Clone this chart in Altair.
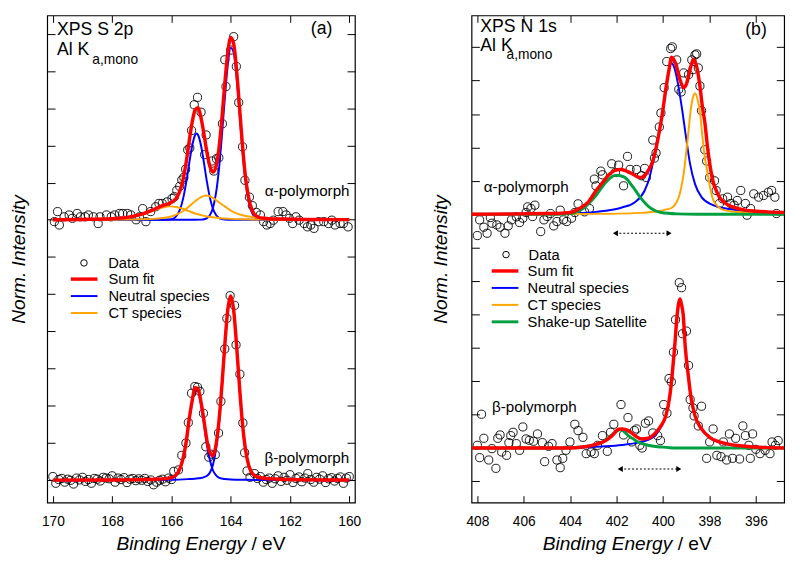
import altair as alt
import pandas as pd

FONT = "Liberation Sans"
RED, BLUE, ORANGE, GREEN = "#ff0000", "#0000ff", "#ffa500", "#00a040"

A_SERIES = ["Sum fit", "Neutral species", "CT species"]
A_COLORS = [RED, BLUE, ORANGE]
B_SERIES = ["Sum fit", "Neutral species", "CT species", "Shake-up Satellite"]
B_COLORS = [RED, BLUE, ORANGE, GREEN]

A_X_DOMAIN = [159.81, 170.19]
A_Y_DOMAIN = [-0.598, 12.49]
B_X_DOMAIN = [394.78, 408.25]
B_Y_DOMAIN = [-1.634, 12.95]
A_X_TICKS = [160, 162, 164, 166, 168, 170]
B_X_TICKS = [396, 398, 400, 402, 404, 406, 408]
A_Y_TICKS = [0, 1, 2, 3, 4, 5, 6, 7, 8, 9, 10, 11, 12]
B_Y_TICKS = [-1, 0, 1, 2, 3, 4, 5, 6, 7, 8, 9, 10, 11, 12, 13]

# ---------------- panel (a): S 2p ----------------
A_ALPHA_PTS = [
    (169.95, 6.95), (169.84, 7.22), (169.78, 6.86), (169.62, 7.08), (169.45, 7.13), (169.34, 7.04),
    (169.18, 7.17), (169.07, 7.08), (168.91, 7.08), (168.80, 7.13), (168.63, 7.08), (168.47, 6.90),
    (168.41, 7.08), (168.19, 7.13), (168.03, 7.08), (167.92, 7.13), (167.75, 7.17), (167.64, 7.17),
    (167.48, 7.17), (167.37, 7.13), (167.19, 7.00), (167.08, 7.08), (166.97, 7.30), (166.86, 6.95),
    (166.70, 7.22), (166.53, 7.35), (166.42, 7.44), (166.31, 7.44), (166.15, 7.48), (165.98, 7.57),
    (165.90, 7.62), (165.82, 7.79), (165.72, 7.90), (165.65, 8.07), (165.58, 8.14), (165.52, 8.36),
    (165.45, 8.88), (165.38, 8.93), (165.32, 9.40), (165.23, 10.09), (165.12, 10.29), (165.00, 9.89),
    (164.88, 8.75), (164.83, 9.28), (164.64, 8.58), (164.57, 8.31), (164.48, 8.64), (164.40, 8.67),
    (164.28, 9.58), (164.20, 11.30), (164.16, 10.58), (164.00, 11.56), (163.90, 11.92), (163.81, 11.12),
    (163.73, 10.15), (163.60, 8.96), (163.52, 8.06), (163.37, 7.61), (163.27, 7.38), (163.14, 7.20),
    (163.00, 7.13), (162.89, 6.95), (162.78, 6.86), (162.67, 6.90), (162.56, 6.99), (162.40, 7.22),
    (162.24, 7.22), (162.13, 7.13), (162.02, 7.04), (161.91, 6.90), (161.80, 7.08), (161.69, 6.99),
    (161.52, 6.90), (161.41, 6.81), (161.30, 6.86), (161.19, 6.77), (161.03, 6.95), (160.86, 6.95),
    (160.70, 6.90), (160.59, 6.99), (160.48, 6.86), (160.31, 6.90), (160.20, 6.90), (160.04, 6.81),
]
A_BETA_PTS = [
    (170.0, 0.10), (169.9, -0.08), (169.8, 0.02), (169.7, 0.05), (169.6, -0.05), (169.5, 0.03),
    (169.4, 0.00), (169.3, -0.10), (169.2, 0.06), (169.1, 0.01), (169.0, 0.08), (168.9, -0.03),
    (168.8, 0.02), (168.7, -0.08), (168.6, 0.05), (168.5, 0.03), (168.4, -0.02), (168.3, 0.08),
    (168.2, 0.06), (168.1, 0.04), (168.0, 0.12), (167.9, -0.05), (167.8, 0.06), (167.7, 0.02),
    (167.6, 0.07), (167.5, -0.06), (167.4, 0.03), (167.3, 0.05), (167.2, -0.01), (167.1, 0.04),
    (167.0, 0.00), (166.9, 0.05), (166.8, -0.03), (166.7, 0.01), (166.6, -0.12), (166.5, -0.05),
    (166.4, 0.00), (166.3, 0.03), (166.2, -0.04), (166.1, 0.06), (166.0, 0.02),
    (165.92, 0.24), (165.76, 0.28), (165.65, 0.67), (165.51, 1.00), (165.43, 1.55), (165.32, 2.34),
    (165.21, 2.52), (165.12, 2.50), (165.04, 2.39), (164.92, 1.80), (164.84, 0.90), (164.74, 0.62),
    (164.66, 0.70), (164.52, 0.69), (164.41, 1.27), (164.33, 2.12), (164.20, 3.53), (164.13, 4.35),
    (164.02, 4.96), (163.87, 4.70), (163.82, 3.64), (163.69, 2.85), (163.59, 1.54), (163.53, 0.74),
    (163.45, 0.25), (163.35, 0.08),
    (163.2, 0.18), (163.1, 0.05), (163.0, 0.10), (162.9, -0.05), (162.8, 0.02), (162.7, 0.06),
    (162.6, -0.08), (162.5, 0.04), (162.4, 0.12), (162.3, -0.03), (162.2, 0.08), (162.1, 0.00),
    (162.0, 0.15), (161.9, -0.06), (161.8, 0.05), (161.7, 0.09), (161.6, -0.04), (161.5, 0.06),
    (161.4, 0.18), (161.3, 0.02), (161.2, -0.05), (161.1, 0.08), (161.0, 0.03), (160.9, 0.12),
    (160.8, -0.06), (160.7, 0.04), (160.6, 0.07), (160.5, -0.02), (160.4, 0.05), (160.3, 0.09),
    (160.2, -0.08), (160.1, 0.06), (160.0, 0.10),
]
A_SUM_ALPHA = [
    (170, 7.0), (169, 7.01), (168, 7.03), (167.5, 7.065), (167, 7.15), (166.6, 7.275), (166.3, 7.38),
    (166.0, 7.47), (165.8, 7.62), (165.6, 8.11), (165.5, 8.56), (165.4, 9.11), (165.3, 9.62),
    (165.2, 9.95), (165.1, 10.01), (165.0, 9.73), (164.9, 9.29), (164.8, 8.80), (164.7, 8.43),
    (164.6, 8.28), (164.5, 8.41), (164.4, 8.89), (164.3, 9.69), (164.2, 10.65), (164.1, 11.48),
    (164.0, 11.90), (163.9, 11.73), (163.8, 11.01), (163.7, 10.0), (163.6, 8.97), (163.5, 8.14),
    (163.4, 7.61), (163.3, 7.30), (163.2, 7.15), (163.0, 7.05), (162.7, 7.03), (162.3, 7.02),
    (161.5, 7.01), (160, 7.005),
]
A_NEUTRAL1_ALPHA = [
    (170, 7.0), (165.2, 7.0), (165.0, 7.004), (164.9, 7.013), (164.8, 7.044), (164.7, 7.126),
    (164.6, 7.317), (164.5, 7.695), (164.4, 8.33), (164.3, 9.225), (164.2, 10.25), (164.1, 11.15),
    (164.0, 11.62), (163.9, 11.50), (163.8, 10.82), (163.7, 9.84), (163.6, 8.84), (163.5, 8.04),
    (163.4, 7.516), (163.3, 7.223), (163.2, 7.084), (163.1, 7.028), (163.0, 7.008), (162.8, 7.0),
    (160, 7.0),
]
A_NEUTRAL2_ALPHA = [
    (170, 7.0), (166.3, 7.0), (166.1, 7.005), (166.0, 7.017), (165.9, 7.05), (165.8, 7.133),
    (165.7, 7.30), (165.6, 7.589), (165.5, 8.012), (165.4, 8.52), (165.3, 8.99), (165.2, 9.28),
    (165.15, 9.32), (165.1, 9.28), (165.0, 8.99), (164.9, 8.52), (164.8, 8.012), (164.7, 7.589),
    (164.6, 7.30), (164.5, 7.133), (164.4, 7.051), (164.3, 7.017), (164.2, 7.005), (164.0, 7.0),
    (160, 7.0),
]
A_CT1_ALPHA = [
    (170, 7.0), (168, 7.003), (167.5, 7.005), (167, 7.012), (166.6, 7.025), (166.3, 7.05),
    (166.0, 7.09), (165.8, 7.15), (165.6, 7.235), (165.4, 7.36), (165.2, 7.50), (165.0, 7.61),
    (164.83, 7.65), (164.6, 7.59), (164.4, 7.47), (164.2, 7.36), (164.0, 7.25), (163.8, 7.17),
    (163.6, 7.12), (163.4, 7.09), (163.2, 7.065), (163.0, 7.05), (162.7, 7.035), (162.3, 7.025),
    (161.5, 7.012), (160, 7.005),
]
A_CT2_ALPHA = [
    (170, 7.003), (169, 7.008), (168, 7.026), (167.5, 7.06), (167, 7.135), (166.6, 7.25),
    (166.3, 7.33), (166.03, 7.36), (165.8, 7.335), (165.6, 7.29), (165.4, 7.23), (165.2, 7.17),
    (165.0, 7.125), (164.8, 7.09), (164.6, 7.07), (164.4, 7.05), (164.0, 7.025), (163.5, 7.012),
    (163, 7.006), (162, 7.002), (160, 7.0),
]
A_SUM_BETA = [
    (170, 0.004), (168, 0.008), (167, 0.017), (166.5, 0.028), (166.2, 0.044), (166.0, 0.07),
    (165.8, 0.18), (165.7, 0.342), (165.6, 0.615), (165.5, 1.04), (165.4, 1.644), (165.3, 2.138),
    (165.2, 2.488), (165.1, 2.452), (165.0, 2.092), (164.9, 1.594), (164.8, 1.06), (164.7, 0.75),
    (164.6, 0.66), (164.5, 0.93), (164.4, 1.564), (164.3, 2.51), (164.2, 3.625), (164.1, 4.577),
    (164.0, 4.952), (163.9, 4.57), (163.8, 3.605), (163.7, 2.48), (163.6, 1.50), (163.5, 0.822),
    (163.4, 0.42), (163.3, 0.22), (163.2, 0.13), (163.0, 0.069), (162.5, 0.033), (162, 0.02),
    (161, 0.01), (160, 0.006),
]
A_NEUTRAL1_BETA = [
    (170, 0.002), (168, 0.004), (167, 0.0074), (166.5, 0.011), (166.0, 0.016), (165.6, 0.025),
    (165.4, 0.034), (165.2, 0.043), (165.0, 0.062), (164.9, 0.084), (164.8, 0.12), (164.7, 0.21),
    (164.6, 0.41), (164.5, 0.81), (164.4, 1.49), (164.3, 2.465), (164.2, 3.59), (164.1, 4.55),
    (164.0, 4.93), (163.9, 4.55), (163.8, 3.59), (163.7, 2.465), (163.6, 1.49), (163.5, 0.81),
    (163.4, 0.41), (163.3, 0.21), (163.2, 0.12), (163.0, 0.062), (162.5, 0.028), (162.0, 0.016),
    (161.0, 0.0074), (160.0, 0.004),
]
A_NEUTRAL2_BETA = [
    (170, 0.002), (168, 0.004), (167, 0.01), (166.5, 0.017), (166.2, 0.03), (166.0, 0.054),
    (165.8, 0.16), (165.7, 0.32), (165.6, 0.59), (165.5, 1.01), (165.4, 1.61), (165.3, 2.10),
    (165.2, 2.445), (165.16, 2.47), (165.1, 2.40), (165.0, 2.03), (164.9, 1.51), (164.8, 0.94),
    (164.7, 0.54), (164.6, 0.27), (164.5, 0.14), (164.4, 0.074), (164.3, 0.047), (164.2, 0.035),
    (164.0, 0.022), (163.5, 0.012), (163.0, 0.007), (162.0, 0.004), (160.0, 0.002),
]

# ---------------- panel (b): N 1s ----------------
B_ALPHA_PTS = [
    (408.0, 6.36), (407.9, 6.83), (407.72, 6.61), (407.58, 6.43), (407.44, 6.90), (407.37, 6.73),
    (407.16, 6.68), (407.02, 6.61), (406.81, 6.43), (406.67, 6.65), (406.53, 6.83), (406.32, 6.92),
    (406.18, 6.75), (406.04, 6.88), (405.9, 7.05), (405.83, 7.22), (405.69, 7.17), (405.62, 6.93),
    (405.52, 7.27), (405.27, 6.48), (405.13, 6.83), (404.99, 6.93), (404.85, 7.02), (404.71, 6.65),
    (404.57, 6.78), (404.43, 7.12), (404.29, 6.83), (404.15, 6.78), (403.94, 6.88), (403.8, 7.05),
    (403.66, 7.31), (403.38, 7.07), (403.17, 7.17), (402.96, 8.05), (402.89, 7.85), (402.68, 8.29),
    (402.61, 8.18), (402.21, 8.51), (402.05, 8.25), (401.91, 8.47), (401.7, 7.85), (401.53, 8.73),
    (401.42, 8.34), (401.14, 8.34), (400.93, 8.15), (400.79, 8.37), (400.72, 8.10), (400.44, 9.22),
    (400.37, 8.68), (400.3, 8.83), (400.16, 9.61), (400.09, 10.03), (399.95, 10.79), (399.84, 11.57),
    (399.67, 11.96), (399.6, 12.01), (399.41, 11.62), (399.32, 10.74), (399.22, 10.66), (399.11, 11.23),
    (398.9, 11.18), (398.76, 11.62), (398.71, 11.33), (398.62, 11.77), (398.55, 11.80), (398.48, 11.38),
    (398.41, 10.84), (398.34, 10.10), (398.2, 8.93), (398.12, 8.59), (397.99, 8.10), (397.78, 8.00),
    (397.71, 7.71), (397.57, 7.32), (397.43, 7.46), (397.22, 7.51), (397.08, 7.32), (396.94, 7.27),
    (396.8, 7.41), (396.65, 7.71), (396.45, 7.32), (396.38, 6.97), (396.23, 7.17), (396.09, 7.61),
    (395.88, 7.51), (395.67, 7.56), (395.46, 7.66), (395.32, 7.71), (395.18, 7.51), (395.11, 7.02),
]
B_BETA_PTS = [
    (408.0, 0.08), (407.9, -0.29), (407.82, 1.01), (407.72, 0.29), (407.51, -0.36), (407.37, -0.02),
    (407.2, -0.61), (407.12, 0.29), (407.02, 0.39), (406.95, -0.12), (406.74, -0.22), (406.64, 0.16),
    (406.56, 0.37), (406.46, 0.47), (406.32, 0.13), (406.18, -0.07), (406.04, 0.63), (405.9, 0.27),
    (405.76, 0.23), (405.58, 0.20), (405.41, 0.42), (405.2, 0.16), (405.1, -0.41), (404.93, 0.05),
    (404.78, 0.13), (404.57, -0.36), (404.43, -0.59), (404.32, -0.31), (404.18, -0.07), (404.01, 0.18),
    (403.8, 0.71), (403.66, 0.52), (403.45, 0.32), (403.31, -0.17), (403.1, -0.12), (402.96, -0.17),
    (402.82, 0.08), (402.61, 0.37), (402.4, -0.10), (402.26, 0.47), (402.12, 0.71), (401.81, 1.30),
    (401.7, 0.39), (401.51, 0.91), (401.35, 0.18), (401.23, 0.52), (401.14, 0.57), (401.0, 0.08),
    (400.9, 0.0), (400.76, 0.74), (400.62, 0.81), (400.44, 0.45), (400.23, 0.37), (400.11, 0.22),
    (399.97, 1.30), (399.83, 1.04), (399.74, 2.08), (399.64, 1.98), (399.55, 2.87), (399.46, 3.84),
    (399.3, 4.95), (399.2, 4.80), (399.16, 3.42), (398.99, 3.50), (398.9, 2.47), (398.83, 1.45),
    (398.71, 1.20), (398.66, 0.96), (398.48, 0.66), (398.34, 1.25), (398.12, -0.31), (397.99, 0.18),
    (397.84, 0.57), (397.68, -0.22), (397.5, -0.26), (397.4, 0.18), (397.26, -0.36), (397.14, 0.42),
    (397.0, -0.31), (396.87, 0.29), (396.7, -0.33), (396.56, 0.66), (396.45, 0.37), (396.3, 0.08),
    (396.24, -0.31), (396.14, 0.42), (396.0, -0.04), (395.82, -0.17), (395.6, -0.07), (395.39, -0.17),
    (395.3, 0.18), (395.16, 0.08), (395.04, 0.22),
]
B_SUM_ALPHA = [
    (408.25, 7.0), (406.0, 7.01), (405.0, 7.02), (404.4, 7.03), (404.0, 7.05), (403.6, 7.17),
    (403.2, 7.38), (402.89, 7.70), (402.6, 7.95), (402.33, 8.18), (402.1, 8.30), (401.84, 8.34),
    (401.6, 8.30), (401.35, 8.22), (401.1, 8.12), (400.93, 8.10), (400.78, 8.16), (400.65, 8.29),
    (400.44, 8.59), (400.3, 8.98), (400.16, 9.47), (400.02, 10.05), (399.88, 10.74), (399.74, 11.33),
    (399.63, 11.70), (399.46, 11.52), (399.27, 11.03), (399.11, 10.79), (399.0, 10.88), (398.9, 11.13),
    (398.78, 11.48), (398.69, 11.64), (398.55, 11.42), (398.41, 10.84), (398.3, 10.2), (398.2, 9.76),
    (398.06, 8.88), (397.95, 8.35), (397.85, 8.0), (397.7, 7.7), (397.57, 7.51), (397.3, 7.32),
    (397.0, 7.22), (396.45, 7.12), (396.0, 7.09), (395.5, 7.07), (394.78, 7.05),
]
B_NEUTRAL_ALPHA = [
    (408.25, 7.0), (404.3, 7.02), (402.89, 7.07), (401.77, 7.20), (401.21, 7.36), (400.79, 7.71),
    (400.58, 8.10), (400.45, 8.49), (400.31, 8.93), (400.16, 9.47), (400.02, 10.05), (399.88, 10.74),
    (399.74, 11.33), (399.63, 11.52), (399.52, 11.40), (399.39, 11.03), (399.18, 10.15), (399.0, 9.26),
    (398.83, 8.49), (398.62, 7.90), (398.34, 7.51), (397.85, 7.27), (397.29, 7.17), (396.5, 7.10),
    (395.5, 7.06), (394.78, 7.05),
]
B_CT_ALPHA = [
    (408.25, 7.0), (403.0, 7.01), (401.0, 7.04), (400.6, 7.06), (400.2, 7.09), (399.8, 7.15),
    (399.6, 7.20), (399.4, 7.38), (399.3, 7.55), (399.2, 7.85), (399.1, 8.26), (399.0, 8.85),
    (398.9, 9.50), (398.8, 10.15), (398.7, 10.52), (398.62, 10.62), (398.5, 10.40), (398.4, 10.0),
    (398.3, 9.30), (398.2, 8.70), (398.1, 8.30), (398.0, 7.90), (397.85, 7.45), (397.7, 7.28),
    (397.5, 7.16), (397.2, 7.10), (397.0, 7.08), (396.5, 7.05), (396.0, 7.04), (395.0, 7.025),
    (394.78, 7.02),
]
B_SAT_ALPHA = [
    (408.25, 7.0), (404.5, 7.0), (404.0, 7.02), (403.45, 7.17), (402.89, 7.56), (402.47, 7.95),
    (402.2, 8.12), (402.02, 8.17), (401.84, 8.15), (401.64, 8.10), (401.28, 7.80), (400.93, 7.46),
    (400.51, 7.17), (400.09, 7.05), (399.4, 7.01), (398.5, 7.0), (394.78, 7.0),
]
B_SUM_BETA = [
    (408.25, 0.0), (404.0, 0.0), (403.45, 0.03), (402.89, 0.11), (402.47, 0.22), (402.19, 0.37),
    (401.91, 0.56), (401.77, 0.57), (401.49, 0.52), (401.21, 0.37), (400.93, 0.27), (400.65, 0.29),
    (400.37, 0.42), (400.09, 0.66), (399.88, 0.96), (399.71, 1.54), (399.6, 2.23), (399.5, 3.01),
    (399.39, 3.99), (399.33, 4.32), (399.27, 4.46), (399.21, 4.32), (399.13, 3.99), (399.04, 3.01),
    (398.92, 2.23), (398.8, 1.54), (398.62, 0.96), (398.34, 0.57), (397.99, 0.32), (397.57, 0.18),
    (396.87, 0.08), (396.1, 0.03), (394.78, 0.0),
]
B_NEUTRAL_BETA = [
    (408.25, 0.0), (404.0, 0.0), (403.0, 0.03), (402.47, 0.05), (401.77, 0.09), (401.07, 0.16),
    (400.65, 0.24), (400.37, 0.36), (400.09, 0.62), (399.88, 0.95), (399.71, 1.53), (399.6, 2.22),
    (399.5, 3.0), (399.39, 3.98), (399.33, 4.31), (399.27, 4.45), (399.21, 4.31), (399.13, 3.98),
    (399.04, 3.0), (398.92, 2.22), (398.8, 1.53), (398.62, 0.95), (398.34, 0.56), (397.99, 0.31),
    (397.57, 0.17), (396.87, 0.07), (396.1, 0.02), (394.78, 0.0),
]
B_SAT_BETA = [
    (408.25, 0.0), (404.2, 0.0), (403.7, 0.02), (403.17, 0.06), (402.61, 0.18), (402.19, 0.40),
    (401.84, 0.55), (401.49, 0.37), (401.07, 0.18), (400.65, 0.08), (400.09, 0.03), (399.5, 0.0),
    (394.78, 0.0),
]
# separation arrows (x from, x to, y)
B_ARROWS = [(402.05, 399.74, 6.43), (401.84, 399.32, -0.63)]

# annotations: text, x, y, font size
A_HEAD = [("XPS S 2p", 169.86, 11.97, 18), ("Al K", 169.86, 11.44, 18), ("a,mono", 168.67, 11.19, 14)]
A_TAG = [("(a)", 160.57, 12.0, 18)]
A_POLY = [("α-polymorph", 162.85, 7.78, 15.5), ("β-polymorph", 162.86, 0.59, 15.5)]
B_HEAD = [("XPS N 1s", 407.87, 12.46, 18), ("Al K", 407.87, 11.88, 18), ("a,mono", 406.74, 11.64, 14)]
B_TAG = [("(b)", 395.53, 12.36, 18)]
B_POLY = [("α-polymorph", 407.72, 7.80, 15.5), ("β-polymorph", 407.37, 1.23, 15.5)]
# x-axis title: italic quantity, upright unit (text, x, y)
A_XTITLE = [("Binding Energy", 163.48, -1.862), ("/ eV", 163.30, -1.862)]
B_XTITLE = [("Binding Energy", 399.60, -3.043), ("/ eV", 399.37, -3.043)]


def curve(points, series, comp):
    return pd.DataFrame({"x": [p[0] for p in points], "y": [p[1] for p in points],
                         "series": series, "comp": comp})


def scatter(*lists):
    pts = [p for lst in lists for p in lst]
    return pd.DataFrame({"x": [p[0] for p in pts], "y": [p[1] for p in pts], "kind": "Data"})


def texts(rows):
    return pd.DataFrame({"t": [r[0] for r in rows], "x": [r[1] for r in rows],
                         "y": [r[2] for r in rows], "fs": [r[3] for r in rows]})


def panel(pts_df, line_groups, heads, tags, polys, xtitle, arrows, xdom, ydom, xticks, yticks,
          width, height, series, colors, leg_xy, dleg_xy, ytitle_pad, label_off):
    xs = alt.Scale(domain=xdom, reverse=True, nice=False, zero=False)
    ys = alt.Scale(domain=ydom, nice=False, zero=False)
    bottom = alt.Axis(orient="bottom", values=xticks, format="d", offset=-7, tickSize=7,
                      tickColor="black", domain=False, grid=False, labelFontSize=14,
                      labelPadding=12, labelFlush=False, labelOverlap=False, labelColor="black",
                      labelFont=FONT, title=None)
    top = alt.Axis(orient="top", values=xticks, offset=-7, tickSize=7, tickColor="black",
                   labels=False, domain=False, grid=False, title=None)
    left = alt.Axis(orient="left", values=yticks, offset=-8, tickSize=8, tickColor="black",
                    labels=False, domain=False, grid=False, title="Norm. Intensity",
                    titleFont=FONT, titleFontSize=19.5, titleFontStyle="italic",
                    titleFontWeight="normal", titleColor="black", titlePadding=ytitle_pad)
    right = alt.Axis(orient="right", values=yticks, offset=-8, tickSize=8, tickColor="black",
                     labels=False, domain=False, grid=False, title=None)

    data_legend = alt.Legend(orient="none", legendX=dleg_xy[0], legendY=dleg_xy[1], title=None,
                             symbolSize=44, symbolStrokeColor="black",
                             symbolFillColor="transparent", symbolStrokeWidth=1,
                             labelFontSize=15, labelFont=FONT, labelColor="black",
                             labelOffset=label_off, padding=0)
    line_legend = alt.Legend(orient="none", legendX=leg_xy[0], legendY=leg_xy[1], title=None,
                             symbolType="M-4.1,0H4.1", symbolSize=44,
                             symbolStrokeWidth=alt.ExprRef(
                                 "datum.value == 'Sum fit' ? 3.5 : (datum.value == 'Shake-up Satellite' ? 3 : 2)"),
                             labelFontSize=15, labelFont=FONT, labelColor="black",
                             labelOffset=label_off, padding=0, rowPadding=1.3)

    layers = []
    layers.append(alt.Chart(pts_df).mark_point(filled=False, size=70, strokeWidth=0.9,
                                               color="black", opacity=1).encode(
        x=alt.X("x:Q", scale=xs, axis=bottom),
        y=alt.Y("y:Q", scale=ys, axis=left),
        shape=alt.Shape("kind:N", scale=alt.Scale(domain=["Data"], range=["circle"]),
                        legend=data_legend)))
    layers.append(alt.Chart(pts_df).mark_point(opacity=0).encode(
        x=alt.X("x:Q", scale=xs, axis=top), y=alt.Y("y:Q", scale=ys, axis=right)))

    for df, w in line_groups:
        layers.append(alt.Chart(df).mark_line(interpolate="monotone", strokeWidth=w).encode(
            x=alt.X("x:Q", scale=xs, axis=None),
            y=alt.Y("y:Q", scale=ys, axis=None),
            color=alt.Color("series:N", scale=alt.Scale(domain=series, range=colors),
                            legend=line_legend),
            detail="comp:N",
            order=alt.Order("x:Q", sort="descending")))

    if arrows:
        adf = pd.DataFrame({"x": [a[0] for a in arrows], "x2": [a[1] for a in arrows],
                            "y": [a[2] for a in arrows]})
        ac = alt.Chart(adf)
        layers.append(ac.mark_rule(strokeDash=[2, 2], color="black", strokeWidth=1.2).encode(
            x=alt.X("x:Q", scale=xs, axis=None), x2="x2:Q",
            y=alt.Y("y:Q", scale=ys, axis=None)))
        layers.append(ac.mark_point(shape="triangle-left", filled=True, color="black",
                                    size=35, opacity=1).encode(
            x=alt.X("x:Q", scale=xs, axis=None), y=alt.Y("y:Q", scale=ys, axis=None)))
        layers.append(ac.mark_point(shape="triangle-right", filled=True, color="black",
                                    size=35, opacity=1).encode(
            x=alt.X("x2:Q", scale=xs, axis=None), y=alt.Y("y:Q", scale=ys, axis=None)))

    for rows, align, baseline in ((heads, "left", "alphabetic"), (tags, "right", "alphabetic"),
                                  (polys, "left", "middle")):
        layers.append(alt.Chart(texts(rows)).mark_text(align=align, baseline=baseline,
                                                       font=FONT, color="black").encode(
            x=alt.X("x:Q", scale=xs, axis=None), y=alt.Y("y:Q", scale=ys, axis=None),
            text="t:N", size=alt.Size("fs:Q", scale=None)))

    # axis title drawn as text: italic quantity, upright unit
    q_df = pd.DataFrame({"t": [xtitle[0][0]], "x": [xtitle[0][1]], "y": [xtitle[0][2]]})
    u_df = pd.DataFrame({"t": [xtitle[1][0]], "x": [xtitle[1][1]], "y": [xtitle[1][2]]})
    layers.append(alt.Chart(q_df).mark_text(align="right", baseline="alphabetic", font=FONT,
                                            fontStyle="italic", fontSize=19.5,
                                            color="black").encode(
        x=alt.X("x:Q", scale=xs, axis=None), y=alt.Y("y:Q", scale=ys, axis=None), text="t:N"))
    layers.append(alt.Chart(u_df).mark_text(align="left", baseline="alphabetic", font=FONT,
                                            fontSize=19.5, color="black").encode(
        x=alt.X("x:Q", scale=xs, axis=None), y=alt.Y("y:Q", scale=ys, axis=None), text="t:N"))

    return alt.layer(*layers).resolve_axis(x="independent", y="independent").properties(
        width=width, height=height)


pa = panel(
    scatter(A_ALPHA_PTS, A_BETA_PTS),
    [
        (pd.concat([curve(A_NEUTRAL1_ALPHA, "Neutral species", "n1a"),
                    curve(A_NEUTRAL2_ALPHA, "Neutral species", "n2a"),
                    curve(A_NEUTRAL1_BETA, "Neutral species", "n1b"),
                    curve(A_NEUTRAL2_BETA, "Neutral species", "n2b")]), 2),
        (pd.concat([curve(A_CT1_ALPHA, "CT species", "c1a"),
                    curve(A_CT2_ALPHA, "CT species", "c2a")]), 2),
        (pd.concat([curve(A_SUM_ALPHA, "Sum fit", "sa"),
                    curve(A_SUM_BETA, "Sum fit", "sb")]), 3.5),
    ],
    A_HEAD, A_TAG, A_POLY, A_XTITLE, None, A_X_DOMAIN, A_Y_DOMAIN, A_X_TICKS, A_Y_TICKS,
    314, 497, A_SERIES, A_COLORS, (30.2, 261.5), (30.0, 245.0), 18.5, 17.3)

pb = panel(
    scatter(B_ALPHA_PTS, B_BETA_PTS),
    [
        (pd.concat([curve(B_NEUTRAL_ALPHA, "Neutral species", "na"),
                    curve(B_NEUTRAL_BETA, "Neutral species", "nb")]), 2),
        (curve(B_CT_ALPHA, "CT species", "ca"), 2),
        (pd.concat([curve(B_SAT_ALPHA, "Shake-up Satellite", "ga"),
                    curve(B_SAT_BETA, "Shake-up Satellite", "gb")]), 3),
        (pd.concat([curve(B_SUM_ALPHA, "Sum fit", "sa"),
                    curve(B_SUM_BETA, "Sum fit", "sb")]), 3.5),
    ],
    B_HEAD, B_TAG, B_POLY, B_XTITLE, B_ARROWS, B_X_DOMAIN, B_Y_DOMAIN, B_X_TICKS, B_Y_TICKS,
    319, 497, B_SERIES, B_COLORS, (26.7, 253.2), (27.7, 236.5), 21, 15.5)

chart = alt.hconcat(pa, pb, spacing=119, bounds="flush").resolve_scale(
    color="independent", shape="independent").resolve_legend(
    color="independent", shape="independent").properties(
    padding={"left": 0, "top": 0, "right": 0, "bottom": 0}).configure(
    font=FONT, background="white").configure_view(stroke="black", strokeWidth=1.2)

chart.save("out.html", embed_options={"renderer": "svg", "actions": False})
